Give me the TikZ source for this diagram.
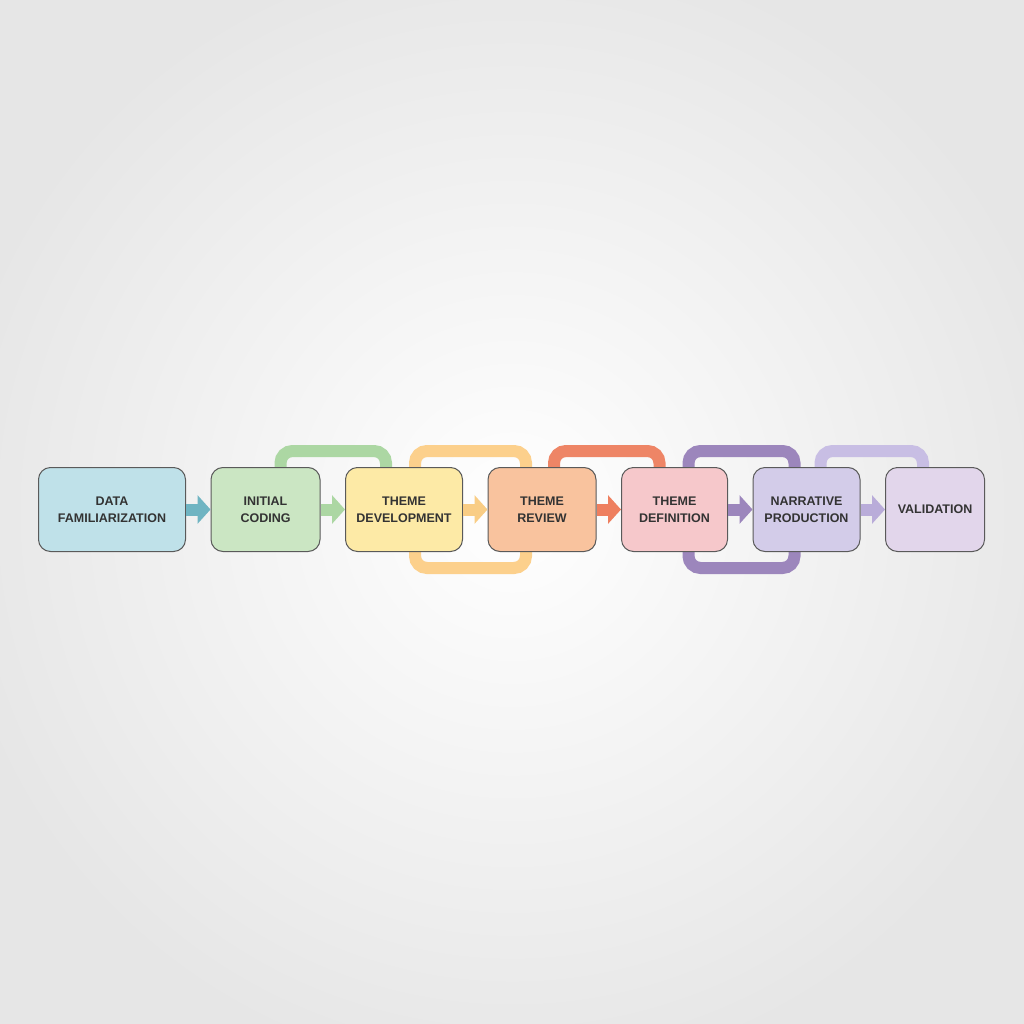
\documentclass[tikz,border=0pt]{standalone}
\usepackage{fontspec}
\setmainfont{Liberation Sans}
\usetikzlibrary{chains,positioning,arrows.meta}

\definecolor{boxline}{HTML}{5A5A5A}
\definecolor{textgray}{HTML}{333333}
\definecolor{bggray}{HTML}{E6E6E6}
% stage fills
\definecolor{c1}{HTML}{BFE1E9}
\definecolor{c2}{HTML}{CBE6C3}
\definecolor{c3}{HTML}{FDEAA6}
\definecolor{c4}{HTML}{F9C39E}
\definecolor{c5}{HTML}{F6C8CB}
\definecolor{c6}{HTML}{D3CCE9}
\definecolor{c7}{HTML}{E2D6EB}
% arrows and loops
\definecolor{a1}{HTML}{6FB4C2}
\definecolor{a2}{HTML}{ACD7A3}
\definecolor{a3}{HTML}{F9CD85}
\definecolor{a4}{HTML}{EE7F5F}
\definecolor{a5}{HTML}{9C86BC}
\definecolor{a6}{HTML}{B9ACD9}
\definecolor{ly}{HTML}{FCD08C}
\definecolor{lr}{HTML}{EE8566}
\definecolor{lq}{HTML}{C8BEE4}

\pgfdeclarelayer{back}
\pgfdeclarelayer{loops}
\pgfsetlayers{back,loops,main}

\begin{document}
\begin{tikzpicture}[
x=1pt, y=-1pt,
stage/.style={
	draw=boxline, line width=1pt, rounded corners=12pt,
	minimum height=84pt, inner sep=2pt, align=center,
	font=\fontsize{12.5}{17}\selectfont\bfseries, text=textgray
},
flow/.style={line width=12pt, -{Triangle[width=28pt,length=13pt]}},
loopband/.style={line width=12pt, rounded corners=12pt},
start chain=going right, node distance=24.5pt
]
\useasboundingbox (0,0) rectangle (1024,1024);
\begin{pgfonlayer}{back}
\shade[inner color=white, outer color=bggray] (-60,-60) rectangle (1084,1084);
\end{pgfonlayer}

\node[stage,on chain,fill=c1,minimum width=147pt] (b1) at (112,509.5) {DATA\\FAMILIARIZATION};
\node[stage,on chain,fill=c2,minimum width=109pt] (b2) {INITIAL\\CODING};
\node[stage,on chain,fill=c3,minimum width=117pt] (b3) {THEME\\DEVELOPMENT};
\node[stage,on chain,fill=c4,minimum width=108pt] (b4) {THEME\\REVIEW};
\node[stage,on chain,fill=c5,minimum width=106pt] (b5) {THEME\\DEFINITION};
\node[stage,on chain,fill=c6,minimum width=107pt] (b6) {NARRATIVE\\PRODUCTION};
\node[stage,on chain,fill=c7,minimum width=99pt] (b7) {VALIDATION};

\foreach \i/\c in {1/a1,2/a2,3/a3,4/a4,5/a5,6/a6}
{
	\pgfmathtruncatemacro\next{\i + 1}
	\draw[flow,draw=\c] (b\i.east) -- (b\next.west);
}

% feedback loops behind the stages
\begin{pgfonlayer}{loops}
\draw[loopband,a2] ([xshift=15pt]b2.center) -- ([xshift=15pt,yshift=16pt]b2.north) -| ([xshift=-18pt]b3.center);
\draw[loopband,ly] ([xshift=11pt]b3.center) -- ([xshift=11pt,yshift=16pt]b3.north) -| ([xshift=-16pt]b4.center);
\draw[loopband,ly] ([xshift=11pt]b3.center) -- ([xshift=11pt,yshift=-16pt]b3.south) -| ([xshift=-16pt]b4.center);
\draw[loopband,lr] ([xshift=12pt]b4.center) -- ([xshift=12pt,yshift=16pt]b4.north) -| ([xshift=-15pt]b5.center);
\draw[loopband,a5] ([xshift=14pt]b5.center) -- ([xshift=14pt,yshift=16pt]b5.north) -| ([xshift=-12pt]b6.center);
\draw[loopband,a5] ([xshift=14pt]b5.center) -- ([xshift=14pt,yshift=-16pt]b5.south) -| ([xshift=-12pt]b6.center);
\draw[loopband,lq] ([xshift=14pt]b6.center) -- ([xshift=14pt,yshift=16pt]b6.north) -| ([xshift=-12pt]b7.center);
\end{pgfonlayer}
\end{tikzpicture}
\end{document}
